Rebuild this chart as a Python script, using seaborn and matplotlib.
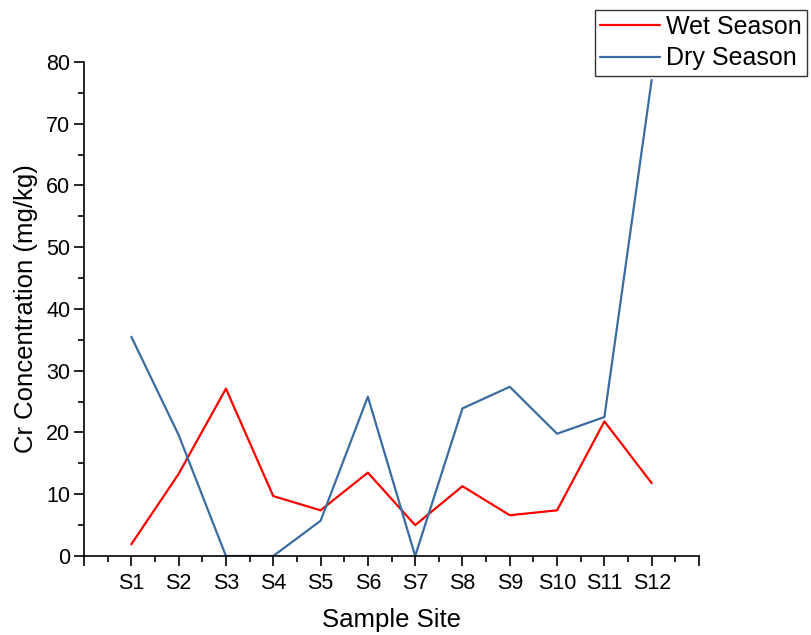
import matplotlib
matplotlib.use("Agg")
import matplotlib.pyplot as plt
from matplotlib.ticker import MultipleLocator, FixedLocator, FixedFormatter
import numpy as np
import pandas as pd
import seaborn as sns

sites = ["S1", "S2", "S3", "S4", "S5", "S6", "S7", "S8", "S9", "S10", "S11", "S12"]
wet_season = [1.9, 13.3, 27.1, 9.7, 7.4, 13.5, 5.0, 11.3, 6.6, 7.4, 21.8, 11.8]
dry_season = [35.5, 19.6, 0.0, 0.0, 5.7, 25.8, 0.0, 23.9, 27.4, 19.8, 22.5, 77.1]

sns.set_theme(style="ticks")
plt.rcParams["font.family"] = ["Liberation Sans", "DejaVu Sans"]
plt.rcParams["text.color"] = "black"
plt.rcParams["axes.labelcolor"] = "black"

pos = np.arange(1, len(sites) + 1)
df = pd.DataFrame({
    "pos": np.concatenate([pos, pos]),
    "value": wet_season + dry_season,
    "season": ["Wet Season"] * len(sites) + ["Dry Season"] * len(sites),
})

fig = plt.figure(figsize=(8.11, 6.35), dpi=100)
ax = fig.add_axes([0.1036, 0.1244, 0.7583, 0.7780])

sns.lineplot(data=df, x="pos", y="value", hue="season",
             palette={"Wet Season": "#FF0000", "Dry Season": "#3A6CA2"},
             linewidth=1.6, ax=ax, legend=False)

ax.set_xlim(0, 13)
ax.set_ylim(0, 80)

ax.xaxis.set_major_locator(FixedLocator(np.arange(0, 14)))
ax.xaxis.set_major_formatter(FixedFormatter([""] + sites + [""]))
ax.xaxis.set_minor_locator(MultipleLocator(0.5))
ax.yaxis.set_major_locator(MultipleLocator(10))
ax.yaxis.set_minor_locator(MultipleLocator(5))

ax.tick_params(axis="both", which="major", direction="out", length=7, width=1.2,
               labelsize=15.5, color="black", labelcolor="black")
ax.tick_params(axis="both", which="minor", direction="out", length=4, width=1.2,
               color="black")
ax.tick_params(axis="x", which="major", pad=5)
ax.tick_params(axis="y", which="major", pad=3)

for side in ["top", "right"]:
    ax.spines[side].set_visible(False)
for side in ["left", "bottom"]:
    ax.spines[side].set_linewidth(1.2)
    ax.spines[side].set_color("black")

ax.set_xlabel("Sample Site", fontsize=18.5, labelpad=10)
ax.set_ylabel("Cr Concentration (mg/kg)", fontsize=18.5, labelpad=6)

handles = [plt.Line2D([], [], color="#FF0000", lw=1.6),
           plt.Line2D([], [], color="#3A6CA2", lw=1.6)]
leg = fig.legend(handles, ["Wet Season", "Dry Season"],
                 loc="upper left", bbox_to_anchor=(595 / 811, 1 - 10 / 635),
                 frameon=True, fancybox=False, fontsize=18,
                 handlelength=2.4, handletextpad=0.25, borderpad=0.2,
                 labelspacing=0.3, borderaxespad=0)
leg.get_frame().set_edgecolor("black")
leg.get_frame().set_linewidth(1.0)

fig.savefig("out.png", dpi=100)
